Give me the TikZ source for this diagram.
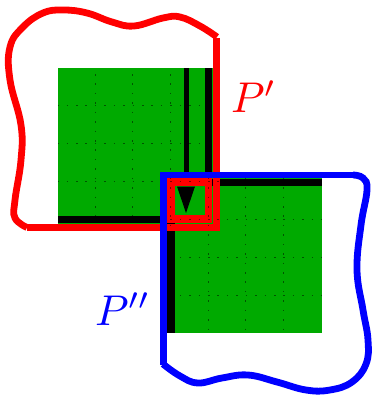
\documentclass[tikz,border=0pt]{standalone}
\definecolor{sqgreen}{RGB}{0,170,0}
\begin{document}
\begin{tikzpicture}[x=1pt,y=-1pt,
  redline/.style={draw=red,line width=6.8pt},
  blueline/.style={draw=blue,line width=6.8pt},
  strip/.style={fill=black},
  gridline/.style={draw=black,opacity=0.5,line width=1pt,dash pattern=on 1.5pt off 7.93pt},
  lbl/.style={inner sep=0pt,anchor=base west}]
\useasboundingbox (0,0) rectangle (375,395);
% green squares
\fill[sqgreen] (58,68.5) rectangle (213,224);
\fill[sqgreen] (167,178) rectangle (322,333);
% black strips
\fill[strip] (183.5,68.5) rectangle (188.5,178);
\fill[strip] (205,68.5) rectangle (211.5,178);
\fill[strip] (58,216) rectangle (167,223);
\fill[strip] (167,179) rectangle (322,186);
\fill[strip] (167,178) rectangle (175,333);
% red region P'
\draw[redline,line join=miter] (216.7,38) -- (216.7,227.5) -- (27,227.5);
\draw[redline,line cap=butt] plot[smooth,tension=0.7] coordinates {(27,227.5) (15,218) (15,200) (21,160) (21,125) (10,80) (10,47) (23,27) (43,13) (63,10) (87,13) (112,22) (134,26) (163,18) (180,17) (200,26) (217,37)};
% small red square and triangle
\draw[draw=red,line width=7.5pt] (171,182) rectangle (208.5,219);
\fill[black] (177,186.5) -- (195,186.5) -- (186,213) -- cycle;
% dotted grid, only on the green squares
\begin{scope}
\clip (58,68.5) rectangle (213,224) (167,178) rectangle (322,333);
\foreach \gx in {95,132.7,170.4,208.1,245.8,283.5}
  \draw[gridline] (\gx,64.6) -- (\gx,340);
\foreach \gy in {106,143.8,181.6,219.4,257.2,295}
  \draw[gridline] (19.45,\gy) -- (330,\gy);
\end{scope}
% blue region P''
\draw[blueline,line join=miter] (163.5,365) -- (163.5,175) -- (353,175);
\draw[blueline,line cap=butt] plot[smooth,tension=0.7] coordinates {(353,175) (363,178) (367,190) (361,225) (357,270) (363,310) (368,340) (366,364) (352,382) (330,390) (306,390) (277,382) (248,375) (222,378) (198,383) (180,376) (163,364)};
% labels
\node[lbl,text=red] (pp) at (231,113) {\scalebox{4.3}{$P'$}};
\node[lbl,text=blue] (ppp) at (95,325) {\scalebox{4.3}{$P''$}};
\end{tikzpicture}
\end{document}
